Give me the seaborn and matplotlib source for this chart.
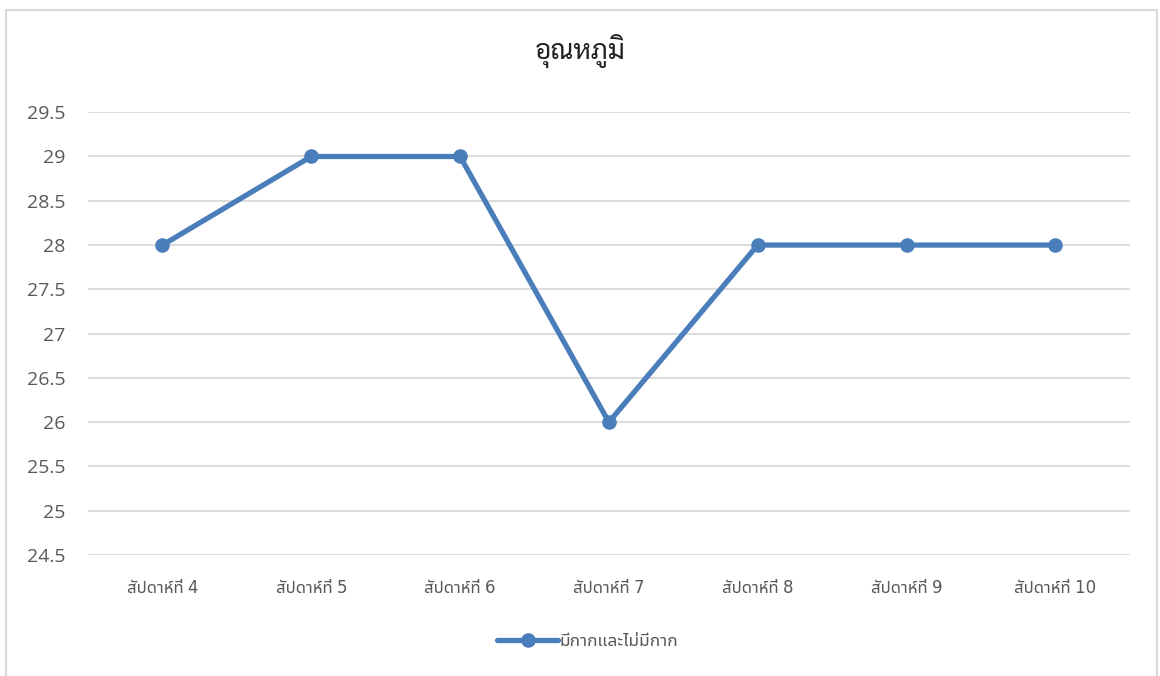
import numpy as np
import pandas as pd
import seaborn as sns
import matplotlib.pyplot as plt
from matplotlib.patches import Rectangle

weeks = ['สัปดาห์ที่ 4', 'สัปดาห์ที่ 5', 'สัปดาห์ที่ 6', 'สัปดาห์ที่ 7',
         'สัปดาห์ที่ 8', 'สัปดาห์ที่ 9', 'สัปดาห์ที่ 10']
temps = [28, 29, 29, 26, 28, 28, 28]
series_name = 'มีกากและไม่มีกาก'
chart_title = 'อุณหภูมิ'

df = pd.DataFrame({'week': weeks, 'temp': temps})

sns.set_style('white')
plt.rcParams['font.family'] = ['Noto Sans Thai UI', 'DejaVu Sans']

fig = plt.figure(figsize=(11.6, 6.76), dpi=100)
ax = fig.add_axes([0.0759, 0.179, 0.898, 0.655])

sns.lineplot(data=df, x='week', y='temp', ax=ax, color='#4a7ebb', linewidth=3.8,
             marker='o', markersize=10.5, markeredgewidth=0, label=series_name, sort=False)

ax.set_xlim(-0.5, 6.5)
ax.set_ylim(24.5, 29.5)
yt = np.arange(24.5, 29.51, 0.5)
ax.set_yticks(yt)
ax.set_yticklabels([f'{v:g}' for v in yt], family=['Open Sans', 'DejaVu Sans'])
ax.grid(axis='y', color='#d9d9d9', linewidth=1.3)
ax.set_axisbelow(True)
for s in ax.spines.values():
    s.set_visible(False)
ax.set_xlabel('')
ax.set_ylabel('')
ax.tick_params(axis='y', labelsize=14, colors='#595959', length=0, pad=16)
ax.tick_params(axis='x', labelsize=12, colors='#595959', length=0, pad=17)

# title is centred on the whole chart, not on the plot area
fig.text(0.5, 1 - 52 / 676, chart_title, ha='center', va='center', fontsize=20,
         color='#222222', family=['Sarabun', 'Noto Sans Thai UI', 'DejaVu Sans'])

leg = ax.legend(loc='center', bbox_to_anchor=(0.48, -0.195), frameon=False,
                fontsize=12.5, handlelength=3.5, handletextpad=0.1)
for t in leg.get_texts():
    t.set_color('#595959')

fig.patches.append(Rectangle((6 / 1160, -0.01), 1151 / 1160, 1 - 10 / 676 + 0.01,
                             transform=fig.transFigure, fill=False,
                             edgecolor='#d9d9d9', linewidth=1.5))

fig.savefig('out.png', dpi=100)
